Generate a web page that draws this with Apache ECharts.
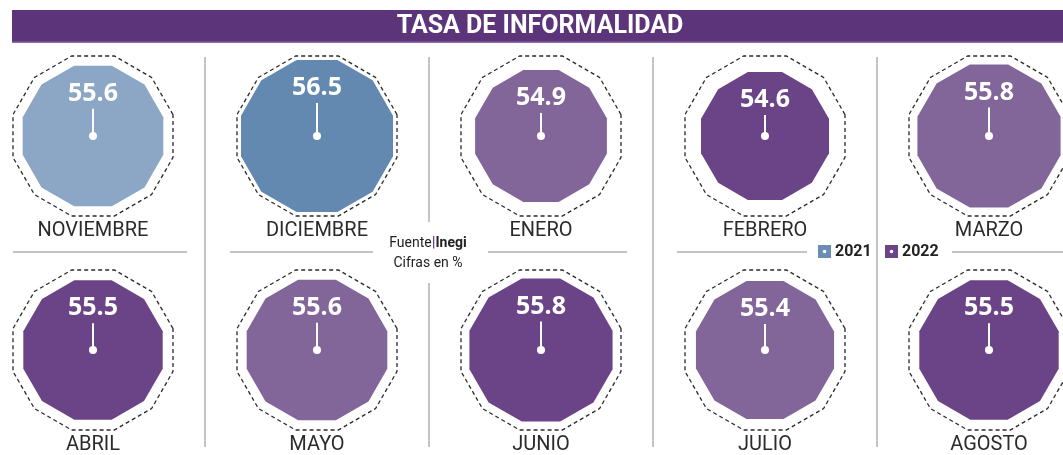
<!DOCTYPE html>
<html>
<head>
<meta charset="utf-8">
<script src="https://cdn.jsdelivr.net/npm/echarts@6/dist/echarts.min.js"></script>
<style>
html,body{margin:0;padding:0;background:#fff;}
#chart{width:1063px;height:455px;}
</style>
</head>
<body>
<div id="chart"></div>
<script>
// ---- data ----
const months = ['NOVIEMBRE','DICIEMBRE','ENERO','FEBRERO','MARZO','ABRIL','MAYO','JUNIO','JULIO','AGOSTO'];
const years  = ['2021','2021','2022','2022','2022','2022','2022','2022','2022','2022'];
const values = [55.6, 56.5, 54.9, 54.6, 55.8, 55.5, 55.6, 55.8, 55.4, 55.5];
const legendYears = ['2021','2022'];
const title = 'TASA DE INFORMALIDAD';
const sourceLabel = 'Fuente';
const sourceName = 'Inegi';
const unitsNote = 'Cifras en %';

// ---- styles ----
const fillColors = ['#8CA6C5','#6389B1','#82669A','#6B4487','#82669A','#6B4487','#82669A','#6B4487','#82669A','#6B4487'];
const yearColors = {'2021':'#6B8DB5','2022':'#6B4487'};
const lineGray = '#b0b0b4';

const cols = 5;
const seriesData = values.map((v, i) => [i % cols, Math.floor(i / cols), v, i]);

const lin = (echarts.number && echarts.number.linearMap) ? echarts.number.linearMap :
  function (val, d, r) { return r[0] + (val - d[0]) / (d[1] - d[0]) * (r[1] - r[0]); };

function dodecagon(cx, cy, apothem) {
  const R = apothem / Math.cos(Math.PI / 12);
  const pts = [];
  for (let k = 0; k < 12; k++) {
    const t = (15 + 30 * k) * Math.PI / 180;
    pts.push([cx + R * Math.cos(t), cy - R * Math.sin(t)]);
  }
  return pts;
}

function renderItem(params, api) {
  const c = api.coord([api.value(0), api.value(1)]);
  const v = api.value(2);
  const i = api.value(3);
  const a = lin(v, [54.6, 56.5], [64, 76]);
  const labelY = c[1] - (a - 28);
  return {
    type: 'group',
    children: [
      { type: 'polygon', shape: { points: dodecagon(c[0], c[1], 80) },
        style: { fill: 'none', stroke: '#2a2a2a', lineWidth: 1.3, lineDash: [4, 3] } },
      { type: 'polygon', shape: { points: dodecagon(c[0], c[1], a) },
        style: { fill: fillColors[i], stroke: null } },
      { type: 'line', shape: { x1: c[0], y1: labelY + 15, x2: c[0], y2: c[1] },
        style: { stroke: '#ffffff', lineWidth: 2 } },
      { type: 'circle', shape: { cx: c[0], cy: c[1], r: 4 }, style: { fill: '#ffffff' } },
      { type: 'text', x: c[0], y: labelY,
        style: { text: v.toFixed(1), fill: '#ffffff', align: 'center', verticalAlign: 'middle',
                 font: 'bold 25px "Open Sans", sans-serif' } },
      { type: 'text', x: c[0], y: c[1] + 95,
        style: { text: months[i], fill: '#2b2b2b', align: 'center', verticalAlign: 'middle',
                 font: '20px Roboto, sans-serif' } }
    ]
  };
}

const graphics = [
  { type: 'rect', shape: { x: 12, y: 10, width: 1051, height: 33 }, style: { fill: '#5C3479' } },
  { type: 'rect', shape: { x: 12, y: 41.5, width: 1051, height: 1.5 }, style: { fill: '#8C6CA4' } },
  { type: 'text', x: 540, y: 27, style: { text: title, fill: '#fff', align: 'center', verticalAlign: 'middle',
      font: 'bold 25px Roboto, sans-serif' } },
  // vertical dividers
  { type: 'line', shape: { x1: 205, y1: 57, x2: 205, y2: 447 }, style: { stroke: lineGray, lineWidth: 1.5 } },
  { type: 'line', shape: { x1: 429, y1: 57, x2: 429, y2: 222 }, style: { stroke: lineGray, lineWidth: 1.5 } },
  { type: 'line', shape: { x1: 429, y1: 283, x2: 429, y2: 447 }, style: { stroke: lineGray, lineWidth: 1.5 } },
  { type: 'line', shape: { x1: 653, y1: 57, x2: 653, y2: 447 }, style: { stroke: lineGray, lineWidth: 1.5 } },
  { type: 'line', shape: { x1: 877, y1: 57, x2: 877, y2: 447 }, style: { stroke: lineGray, lineWidth: 1.5 } },
  // horizontal dividers
  { type: 'line', shape: { x1: 13, y1: 252, x2: 187, y2: 252 }, style: { stroke: lineGray, lineWidth: 1.5 } },
  { type: 'line', shape: { x1: 230, y1: 252, x2: 373, y2: 252 }, style: { stroke: lineGray, lineWidth: 1.5 } },
  { type: 'line', shape: { x1: 488, y1: 252, x2: 627, y2: 252 }, style: { stroke: lineGray, lineWidth: 1.5 } },
  { type: 'line', shape: { x1: 677, y1: 252, x2: 807, y2: 252 }, style: { stroke: lineGray, lineWidth: 1.5 } },
  { type: 'line', shape: { x1: 952, y1: 252, x2: 1063, y2: 252 }, style: { stroke: lineGray, lineWidth: 1.5 } },
  // source
  { type: 'text', x: 428, y: 243, style: {
      text: '{a|' + sourceLabel + '}{b||}{c|' + sourceName + '}', align: 'center', verticalAlign: 'middle',
      rich: {
        a: { fontFamily: 'Roboto', fontSize: 14, fill: '#222' },
        b: { fontFamily: 'Roboto', fontSize: 15, fontWeight: 'bold', fill: '#6B4487' },
        c: { fontFamily: 'Roboto', fontSize: 14, fontWeight: 'bold', fill: '#222' }
      } } },
  { type: 'text', x: 428, y: 263, style: { text: unitsNote, align: 'center', verticalAlign: 'middle',
      font: '14px Roboto, sans-serif', fill: '#222' } }
];
// legend
const legendX = [818, 885];
legendYears.forEach((y, k) => {
  graphics.push({ type: 'rect', shape: { x: legendX[k], y: 245, width: 13, height: 13 }, style: { fill: yearColors[y] } });
  graphics.push({ type: 'circle', shape: { cx: legendX[k] + 6.5, cy: 251.5, r: 1.8 }, style: { fill: '#fff' } });
  graphics.push({ type: 'text', x: legendX[k] + 17, y: 252, style: { text: y, align: 'left', verticalAlign: 'middle',
      font: 'bold 16px Roboto, sans-serif', fill: '#222' } });
});

const chart = echarts.init(document.getElementById('chart'), null, { renderer: 'canvas' });
chart.setOption({
  animation: false,
  backgroundColor: '#ffffff',
  grid: { left: 93, right: 74, top: 136, bottom: 105 },
  xAxis: { type: 'value', min: 0, max: 4, show: false },
  yAxis: { type: 'value', min: 0, max: 1, inverse: true, show: false },
  graphic: graphics,
  series: [{
    type: 'custom',
    renderItem: renderItem,
    clip: false,
    encode: { x: 0, y: 1 },
    data: seriesData
  }]
});
</script>
</body>
</html>
